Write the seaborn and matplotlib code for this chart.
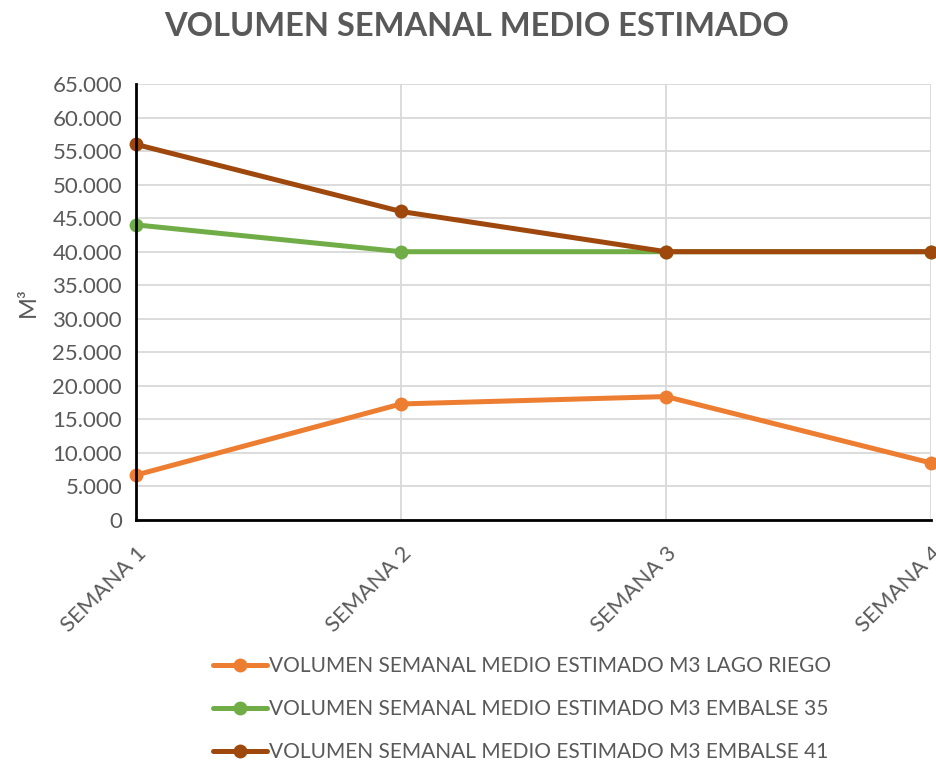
import seaborn as sns
import pandas as pd
import matplotlib.pyplot as plt
from matplotlib.ticker import FuncFormatter, MultipleLocator
from matplotlib.lines import Line2D

semanas = ['SEMANA 1', 'SEMANA 2', 'SEMANA 3', 'SEMANA 4']
lago_riego = [6700, 17300, 18400, 8500]
embalse_35 = [44000, 40000, 40000, 40000]
embalse_41 = [56000, 46000, 40000, 40000]

series = [
    ('VOLUMEN SEMANAL MEDIO ESTIMADO M3 LAGO RIEGO', lago_riego, '#ED7D31'),
    ('VOLUMEN SEMANAL MEDIO ESTIMADO M3 EMBALSE 35', embalse_35, '#70AD47'),
    ('VOLUMEN SEMANAL MEDIO ESTIMADO M3 EMBALSE 41', embalse_41, '#9E480E'),
]

sns.set_style('white')
plt.rcParams['font.family'] = ['Lato', 'DejaVu Sans']
grey = '#595959'

fig = plt.figure(figsize=(9.36, 7.64), dpi=100)
ax = fig.add_axes([0.1453, 0.3194, 0.8494, 0.5706])

handles = []
for name, vals, color in series:
    df = pd.DataFrame({'semana': semanas, 'm3': vals})
    sns.lineplot(data=df, x='semana', y='m3', ax=ax, color=color, lw=3.6,
                 marker='o', markersize=10, markeredgewidth=0, clip_on=False,
                 zorder=3)
    handles.append(Line2D([], [], color=color, lw=3.6, marker='o',
                          markersize=10, markeredgewidth=0, label=name))

ax.set_xlim(0, len(semanas) - 1)
ax.set_ylim(0, 65000)
ax.yaxis.set_major_locator(MultipleLocator(5000))
ax.yaxis.set_major_formatter(FuncFormatter(lambda v, p: f'{int(v):,}'.replace(',', '.')))
ax.grid(True, color='#d9d9d9', lw=1.3)
ax.set_axisbelow(True)

for s in ['top', 'right']:
    ax.spines[s].set_visible(False)
for s in ['left', 'bottom']:
    ax.spines[s].set_color('black')
    ax.spines[s].set_linewidth(2)
    ax.spines[s].set_zorder(4)
ax.tick_params(axis='both', direction='inout', length=10, width=2,
               color='black', labelcolor=grey, labelsize=16)
ax.tick_params(axis='y', pad=5)
ax.tick_params(axis='x', pad=12)
plt.setp(ax.get_xticklabels(), rotation=45, ha='right', rotation_mode='anchor')

ax.set_xlabel('')
ax.set_ylabel('M³', color=grey, fontsize=17, labelpad=10)
fig.text(0.509, 0.965, 'VOLUMEN SEMANAL MEDIO ESTIMADO', ha='center', va='center',
         fontsize=23.5, fontweight='bold', color=grey)

leg = fig.legend(handles=handles, loc='center', bbox_to_anchor=(0.558, 0.072),
                 frameon=False, fontsize=15, handlelength=2.6, handletextpad=0.1,
                 labelspacing=1.1, borderpad=0)
for t in leg.get_texts():
    t.set_color(grey)

fig.savefig('out.png', dpi=100)
